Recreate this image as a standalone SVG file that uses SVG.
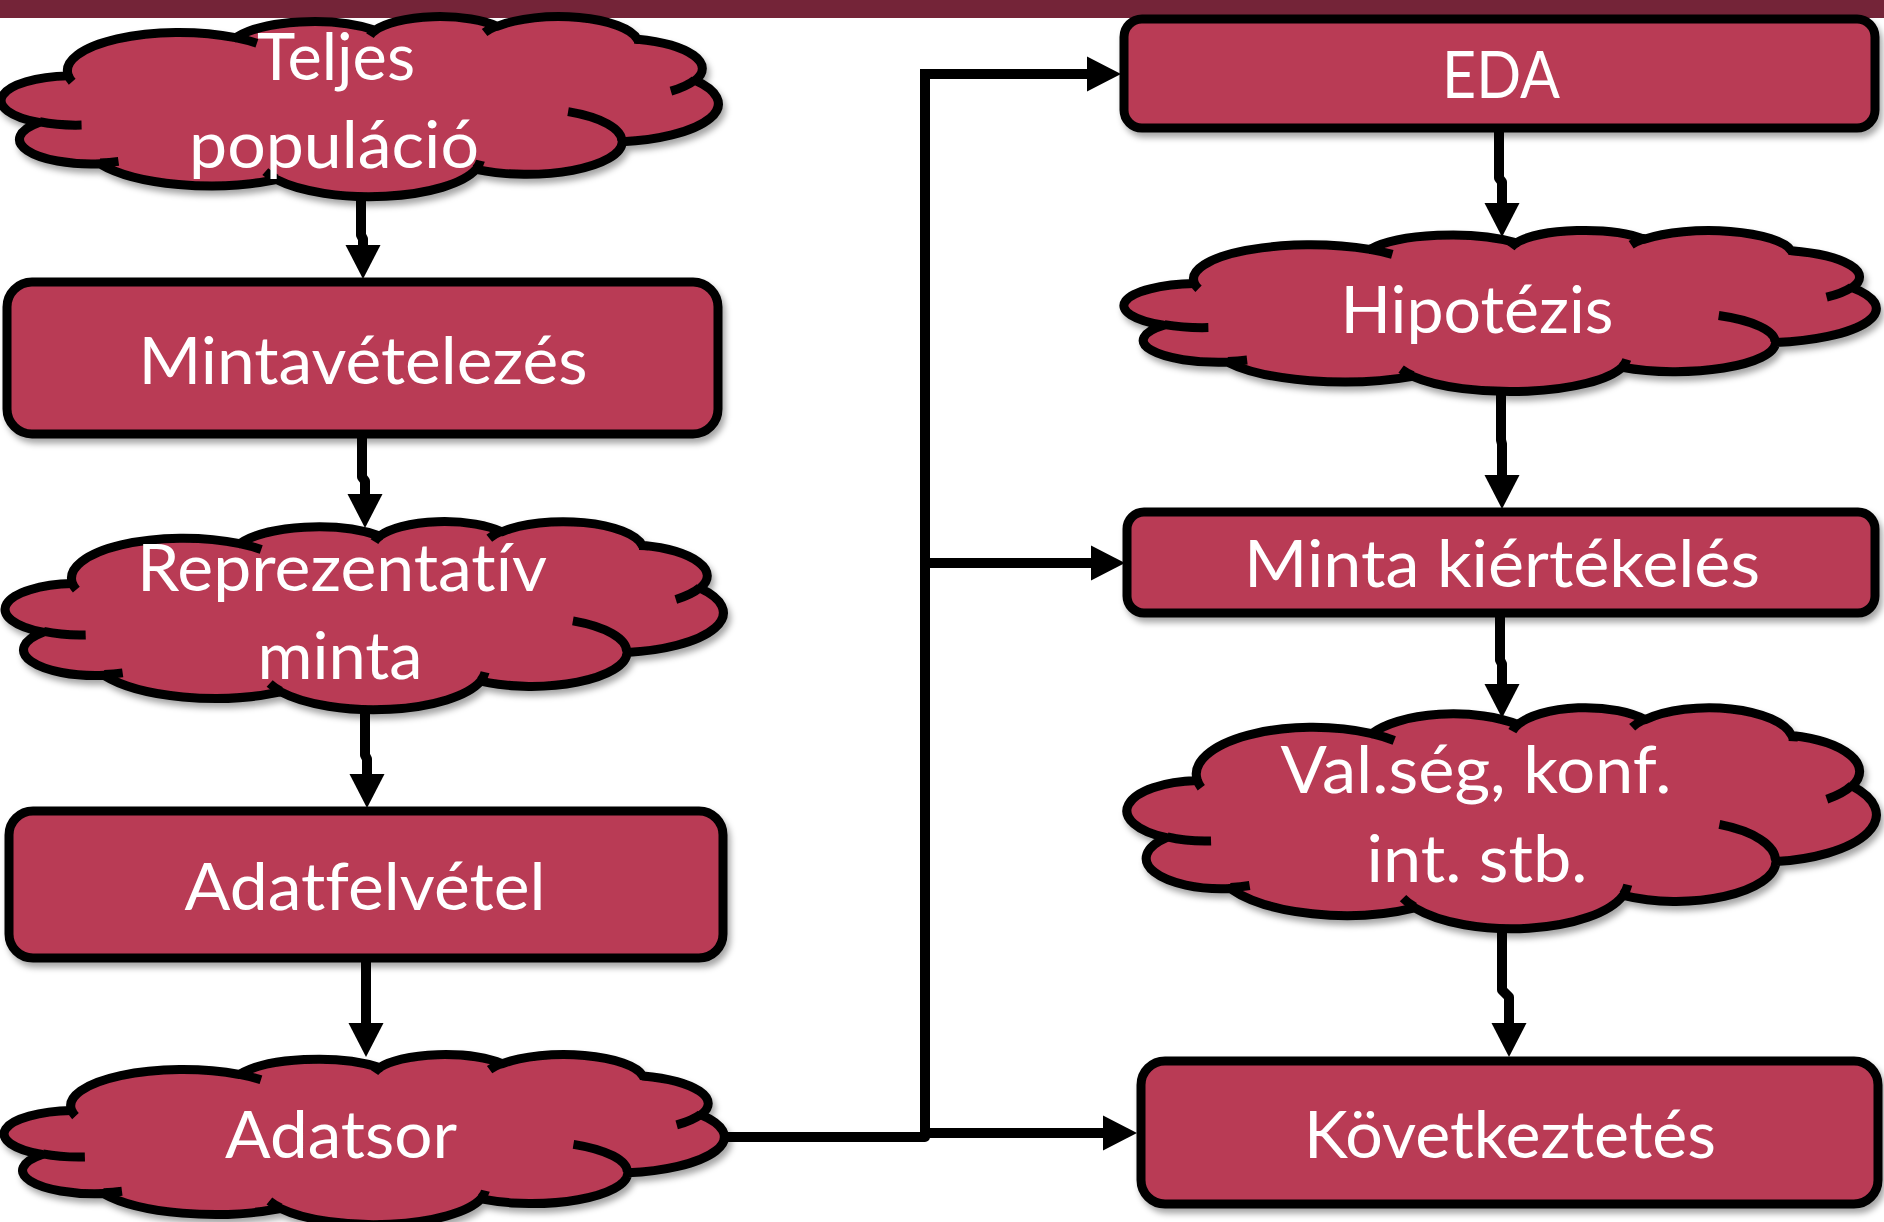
<svg xmlns="http://www.w3.org/2000/svg" xmlns:xlink="http://www.w3.org/1999/xlink" width="1884" height="1222" viewBox="0 0 1884 1222">
<style>
.node{fill:#B93A55;stroke:#000;stroke-width:9;stroke-linejoin:round}
.inner{fill:none;stroke:#000;stroke-width:9}
.lbl{font-family:Lato,"Open Sans","Liberation Sans",sans-serif;font-size:65px;fill:#fff;text-anchor:middle;font-variant-ligatures:none;font-feature-settings:"liga" 0,"clig" 0}
.conn{fill:none;stroke:#000;stroke-width:10;stroke-linejoin:round}
</style>
<defs>
<filter id="sh" x="-5%" y="-10%" width="115%" height="130%">
<feDropShadow dx="3" dy="5" stdDeviation="3" flood-color="#000" flood-opacity="0.35"/>
</filter>
<marker id="ah" markerUnits="userSpaceOnUse" markerWidth="34" markerHeight="35" refX="0" refY="17.5" orient="auto" overflow="visible">
<path d="M0,0 L34,17.5 L0,35 Z" fill="#000"/>
</marker>
<path id="cloudOuter" vector-effect="non-scaling-stroke" d="M3900 14370 A6753 9190 0 0 1 14005 5202 A5333 7267 0 0 1 22457 3431 A4365 5945 0 0 1 29834 2480 A4857 6595 0 0 1 38319 5575 A5333 7273 0 0 1 41820 15459 A6775 9220 0 0 1 37406 30202 A5785 7867 0 0 1 28558 36813 A6752 9215 0 0 1 16483 39266 A7720 10543 0 0 1 5806 35470 A4360 5918 0 0 1 2116 25547 A4345 5945 0 0 1 3900 14370 Z"/>
<path id="cloudInner" vector-effect="non-scaling-stroke" d="M4693 26177 A4345 5945 0 0 1 2160 25380 M6928 34899 A4360 5918 0 0 1 5819 35281 M16478 39090 A6752 9215 0 0 1 15809 37347 M28827 34751 A6752 9215 0 0 1 28561 36659 M34129 22954 A5785 7867 0 0 1 37381 30090 M41798 15354 A5333 7273 0 0 1 40350 18029 M38324 5426 A4857 6595 0 0 1 38400 6689 M29078 3952 A4857 6595 0 0 1 29820 2340 M22141 4720 A4365 5945 0 0 1 22500 3330 M14000 5192 A6753 9190 0 0 1 15301 6541 M4127 15789 A6753 9190 0 0 1 3900 14370"/>
</defs>
<rect x="0" y="0" width="1884" height="18" fill="#742438"/>

<g id="teljes-populacio" filter="url(#sh)">
<use xlink:href="#cloudOuter" class="node" transform="translate(4 16) scale(0.016528 0.0041667)"/>
<use xlink:href="#cloudInner" class="inner" transform="translate(4 16) scale(0.016528 0.0041667)"/>
<text class="lbl" x="336" y="80" textLength="158" lengthAdjust="spacingAndGlyphs">Teljes</text>
<text class="lbl" x="334" y="168" textLength="290" lengthAdjust="spacingAndGlyphs">populáció</text>
</g>

<g id="mintavetelezes" filter="url(#sh)">
<rect class="node" x="7" y="282" width="711" height="152" rx="25" ry="25"/>
<text class="lbl" x="363" y="384" textLength="449" lengthAdjust="spacingAndGlyphs">Mintavételezés</text>
</g>

<g id="reprezentativ-minta" filter="url(#sh)">
<use xlink:href="#cloudOuter" class="node" transform="translate(8 521) scale(0.016551 0.0043519)"/>
<use xlink:href="#cloudInner" class="inner" transform="translate(8 521) scale(0.016551 0.0043519)"/>
<text class="lbl" x="342" y="591" textLength="410" lengthAdjust="spacingAndGlyphs">Reprezentatív</text>
<text class="lbl" x="340" y="679" textLength="165" lengthAdjust="spacingAndGlyphs">minta</text>
</g>

<g id="adatfelvetel" filter="url(#sh)">
<rect class="node" x="9" y="811" width="714" height="147" rx="24" ry="24"/>
<text class="lbl" x="365" y="910" textLength="361" lengthAdjust="spacingAndGlyphs">Adatfelvétel</text>
</g>

<g id="adatsor" filter="url(#sh)">
<use xlink:href="#cloudOuter" class="node" transform="translate(7 1054) scale(0.016597 0.0039352)"/>
<use xlink:href="#cloudInner" class="inner" transform="translate(7 1054) scale(0.016597 0.0039352)"/>
<text class="lbl" x="341" y="1158" textLength="232" lengthAdjust="spacingAndGlyphs">Adatsor</text>
</g>

<g id="eda" filter="url(#sh)">
<rect class="node" x="1124" y="19" width="751" height="109" rx="18" ry="18"/>
<text class="lbl" x="1501" y="98" textLength="118" lengthAdjust="spacingAndGlyphs">EDA</text>
</g>

<g id="hipotezis" filter="url(#sh)">
<use xlink:href="#cloudOuter" class="node" transform="translate(1127 230) scale(0.017338 0.0037269)"/>
<use xlink:href="#cloudInner" class="inner" transform="translate(1127 230) scale(0.017338 0.0037269)"/>
<text class="lbl" x="1477" y="333" textLength="273" lengthAdjust="spacingAndGlyphs">Hipotézis</text>
</g>

<g id="minta-kiertekeles" filter="url(#sh)">
<rect class="node" x="1127" y="512" width="748" height="101" rx="17" ry="17"/>
<text class="lbl" x="1502" y="587" textLength="516" lengthAdjust="spacingAndGlyphs">Minta kiértékelés</text>
</g>

<g id="valseg-konf-int" filter="url(#sh)">
<use xlink:href="#cloudOuter" class="node" transform="translate(1130 707) scale(0.017269 0.0051157)"/>
<use xlink:href="#cloudInner" class="inner" transform="translate(1130 707) scale(0.017269 0.0051157)"/>
<text class="lbl" x="1476" y="793" textLength="391" lengthAdjust="spacingAndGlyphs">Val.ség, konf.</text>
<text class="lbl" x="1477" y="882" textLength="221" lengthAdjust="spacingAndGlyphs">int. stb.</text>
</g>

<g id="kovetkeztetes" filter="url(#sh)">
<rect class="node" x="1141" y="1061" width="737" height="143" rx="24" ry="24"/>
<text class="lbl" x="1510" y="1158" textLength="412" lengthAdjust="spacingAndGlyphs">Következtetés</text>
</g>

<g id="connectors">
<path class="conn" marker-end="url(#ah)" d="M361 197 V235 L363 239 V245"/>
<path class="conn" marker-end="url(#ah)" d="M362 436 V477 L365 481 V494"/>
<path class="conn" marker-end="url(#ah)" d="M365 708 V755 L367 759 V774"/>
<path class="conn" marker-end="url(#ah)" d="M366 960 V1023"/>
<path class="conn" marker-end="url(#ah)" d="M1499 130 V178 L1502 182 V203"/>
<path class="conn" marker-end="url(#ah)" d="M1501 392 V440 L1502 444 V475"/>
<path class="conn" marker-end="url(#ah)" d="M1500 615 V660 L1502 664 V684"/>
<path class="conn" marker-end="url(#ah)" d="M1502 928 V990 L1509 997 V1023"/>
<path class="conn" d="M726 1137 H925 V74"/>
<path class="conn" marker-end="url(#ah)" d="M920 74 H1087"/>
<path class="conn" marker-end="url(#ah)" d="M925 563 H1091"/>
<path class="conn" marker-end="url(#ah)" d="M925 1133 H1103"/>
</g>
</svg>
